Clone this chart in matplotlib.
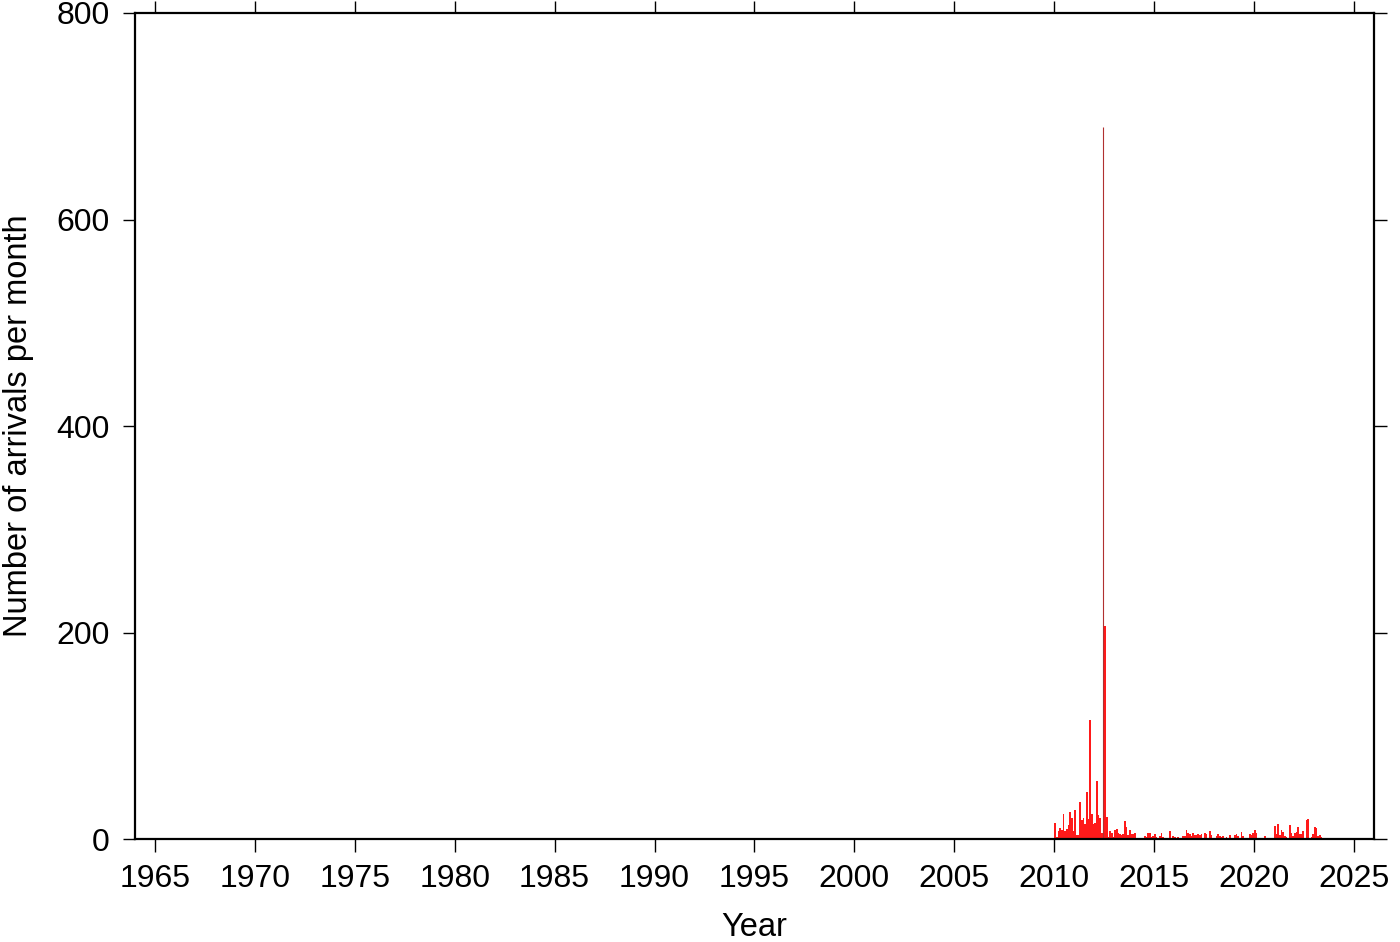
import numpy as np
import matplotlib
matplotlib.use('Agg')
import matplotlib.pyplot as plt

plt.rcParams['font.family'] = ['Liberation Sans', 'DejaVu Sans']

# monthly arrival counts, Jan of each year onwards
first_year = 2010
counts_2010 = [16, 2, 8, 11, 9, 24, 8, 10, 14, 26, 20, 8]
counts_2011 = [28, 4, 4, 36, 18, 20, 15, 46, 19, 115, 24, 15]
counts_2012 = [16, 56, 23, 20, 6, 206, 206, 21, 2, 8, 6, 2]
counts_2013 = [9, 10, 6, 5, 4, 5, 17, 12, 4, 9, 5, 5]
counts_2014 = [6, 0, 0, 0, 0, 0, 3, 2, 6, 6, 2, 3]
counts_2015 = [5, 2, 0, 3, 6, 2, 0, 0, 0, 8, 0, 3]
counts_2016 = [2, 0, 2, 0, 0, 3, 3, 9, 6, 5, 3, 6]
counts_2017 = [4, 4, 5, 4, 5, 0, 6, 5, 0, 8, 4, 0]
counts_2018 = [0, 3, 5, 3, 2, 3, 0, 2, 0, 4, 0, 0]
counts_2019 = [4, 5, 3, 0, 7, 3, 0, 0, 0, 5, 4, 6]
counts_2020 = [9, 6, 0, 0, 0, 0, 3, 0, 0, 0, 0, 0]
counts_2021 = [13, 5, 15, 4, 9, 7, 3, 2, 0, 14, 6, 3]
counts_2022 = [6, 7, 12, 5, 5, 8, 0, 18, 19, 0, 2, 5]
counts_2023 = [12, 11, 3, 4, 2]

# single very large burst (thin spike)
spike_time = [2012.43]
spike_count = [690]

xticks = list(range(1965, 2030, 5))
yticks = [0, 200, 400, 600, 800]

counts = (counts_2010 + counts_2011 + counts_2012 + counts_2013 + counts_2014 +
          counts_2015 + counts_2016 + counts_2017 + counts_2018 + counts_2019 +
          counts_2020 + counts_2021 + counts_2022 + counts_2023)
months = first_year + np.arange(len(counts)) / 12.0

fig = plt.figure(figsize=(14, 9.42), dpi=100)
ax = fig.add_axes([0.0964, 0.1093, 0.885, 0.8769])

ax.bar(months, counts, width=1/12, align='edge', color='#ff1a1a', linewidth=0)
ax.vlines(spike_time, 0, spike_count, color='#b03030', linewidth=0.8)

ax.set_xlim(1964, 2026)
ax.set_ylim(0, 800)
ax.set_xticks(xticks)
ax.set_yticks(yticks)

for s in ax.spines.values():
    s.set_linewidth(1.6)

ax.tick_params(axis='both', which='major', direction='out', length=9, width=1.0,
               labelsize=23, top=True, right=True, colors='black')
ax.tick_params(axis='x', pad=9)
ax.tick_params(axis='y', pad=9)

ax.set_xlabel('Year', fontsize=23.5, labelpad=13)
ax.set_ylabel('Number of arrivals per month', fontsize=23.5, labelpad=16)

fig.savefig('out.png', dpi=100)
